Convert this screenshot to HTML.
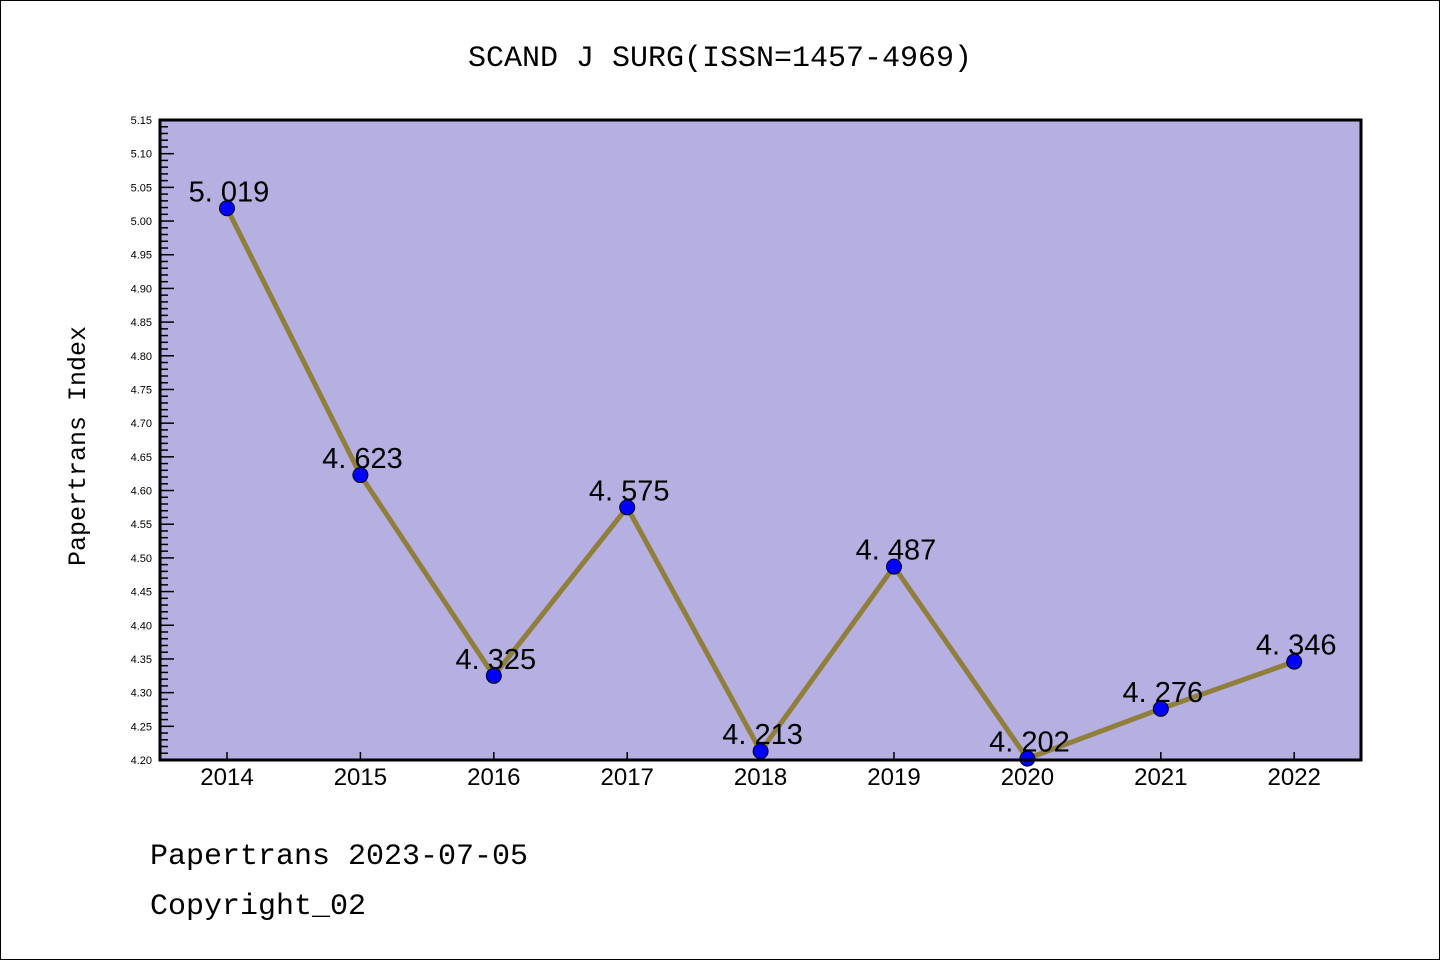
<!DOCTYPE html>
<html><head><meta charset="utf-8"><style>
body{margin:0;background:#fff;}
svg text{font-family:"Liberation Sans","Noto Sans CJK SC",sans-serif;}
svg text.mono{font-family:"Liberation Mono","Noto Sans CJK SC",monospace;}
</style></head><body>
<svg id="c" width="1440" height="960" xmlns="http://www.w3.org/2000/svg">
<rect x="0.5" y="0.5" width="1439" height="959" fill="#fff" stroke="#000"/>
<text class="mono" x="720" y="66" font-size="30" text-anchor="middle">SCAND J SURG(ISSN=1457-4969)</text>
<rect x="160" y="120" width="1201" height="640" fill="#b5afe2"/>
<g id="ticks"></g>
<g id="series"></g>
<rect x="160" y="120" width="1201" height="640" fill="none" stroke="#000" stroke-width="3"/>
<text class="mono" transform="translate(85,446) rotate(-90)" font-size="25" text-anchor="middle">Papertrans Index</text>
<text class="mono" x="150" y="864" font-size="30">Papertrans 2023-07-05</text>
<text class="mono" x="150" y="914" font-size="30">Copyright_02</text>
</svg>
<script>
const years=["2014","2015","2016","2017","2018","2019","2020","2021","2022"];
const values=[5.019,4.623,4.325,4.575,4.213,4.487,4.202,4.276,4.346];
const yTicks=["4.20","4.25","4.30","4.35","4.40","4.45","4.50","4.55","4.60","4.65","4.70","4.75","4.80","4.85","4.90","4.95","5.00","5.05","5.10","5.15"];
const NS="http://www.w3.org/2000/svg";
const yMin=4.20,yMax=5.15,yTop=120,yBot=760;
const yS=v=>yBot-(v-yMin)/(yMax-yMin)*(yBot-yTop);
const xS=i=>227+i*133.4;
function mk(t,a,p){const e=document.createElementNS(NS,t);for(const k in a)e.setAttribute(k,a[k]);p.appendChild(e);return e;}
const tg=document.getElementById('ticks'),sg=document.getElementById('series');
for(let k=0;k<=95;k++){const v=yMin+k*0.01;const major=k%5===0;
 const l=mk('line',{x1:160,x2:160+(major?14:8),y1:yS(v),y2:yS(v),stroke:'#000','stroke-width':1.5},tg);
 
 }
yTicks.forEach(s=>{const t=mk('text',{x:152,y:yS(parseFloat(s))+4,'font-size':11,'text-anchor':'end'},tg);t.textContent=s;
 
 });
years.forEach((s,i)=>{const l=mk('line',{x1:xS(i),x2:xS(i),y1:760,y2:752,stroke:'#000','stroke-width':1.5},tg);
 
 
 const t=mk('text',{x:xS(i),y:785,'font-size':24,'text-anchor':'middle'},tg);t.textContent=s;
 
 });
const pl=mk('polyline',{points:values.map((v,i)=>xS(i)+','+yS(v)).join(' '),fill:'none',stroke:'#8f7f3a','stroke-width':5},sg);


values.forEach((v,i)=>{const c=mk('circle',{cx:xS(i),cy:yS(v),r:7.5,fill:'#0000ff',stroke:'#000','stroke-width':1},sg);
 
 
 const t=mk('text',{x:xS(i)+2,y:yS(v)-7,'font-size':29,'text-anchor':'middle'},sg);t.textContent=v.toFixed(3).replace('.','. ');
 
 });
</script>
</body></html>
